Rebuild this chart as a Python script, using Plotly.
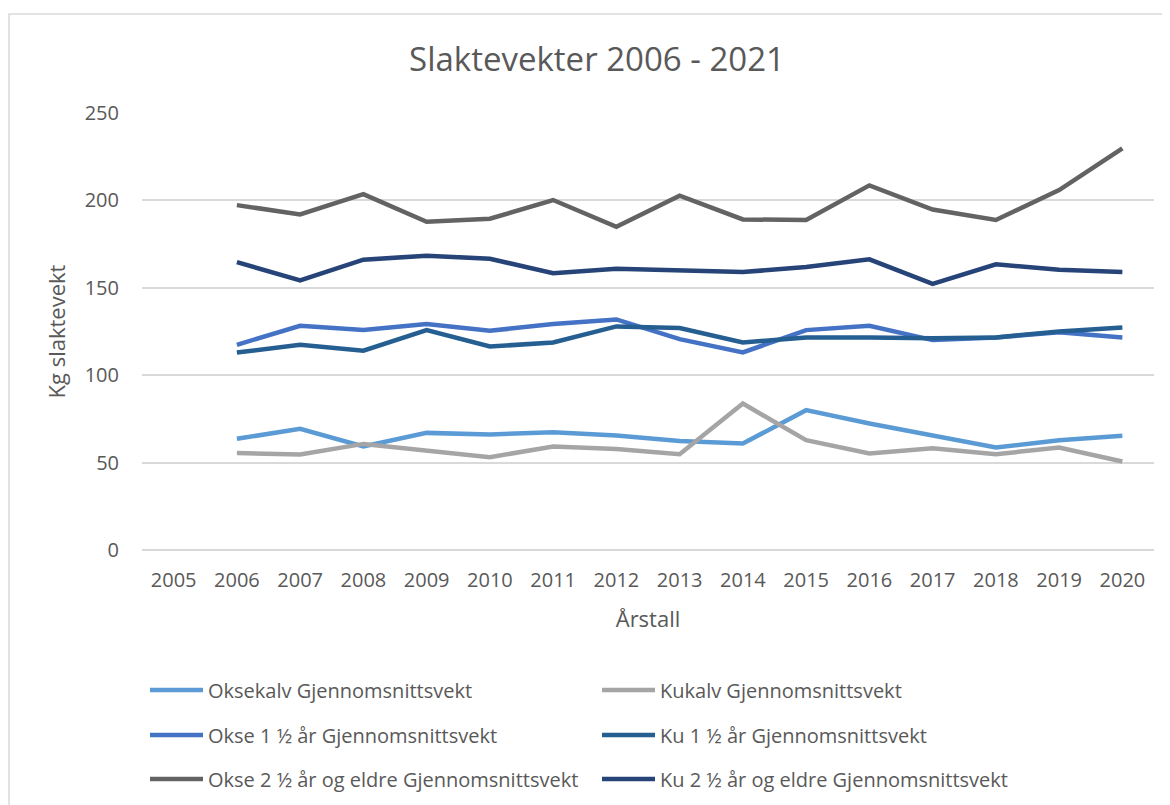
import plotly.graph_objects as go

years = ["2005", "2006", "2007", "2008", "2009", "2010", "2011", "2012", "2013",
         "2014", "2015", "2016", "2017", "2018", "2019", "2020"]
data_years = years[1:]

oksekalv = [63.6, 69.3, 59.2, 67.0, 66.1, 67.4, 65.5, 62.4, 60.9, 80.0, 72.4, 65.3, 58.6, 62.8, 65.3]
kukalv = [55.5, 54.6, 60.7, 56.9, 53.1, 59.2, 57.8, 54.8, 83.8, 62.8, 55.2, 58.2, 54.8, 58.6, 50.6]
okse_1_5 = [117.4, 128.3, 125.8, 129.3, 125.4, 129.3, 131.9, 120.6, 113.0, 125.8, 128.3, 120.1, 121.6, 124.5, 121.6]
ku_1_5 = [113.0, 117.4, 114.0, 125.8, 116.4, 118.7, 127.9, 127.0, 118.7, 121.6, 121.6, 121.2, 121.6, 125.0, 127.3]
okse_2_5 = [197.3, 192.0, 203.6, 187.8, 189.5, 200.2, 184.9, 202.7, 189.1, 188.8, 208.6, 194.8, 188.8, 205.9, 229.8]
ku_2_5 = [164.7, 154.2, 166.1, 168.4, 166.6, 158.4, 160.9, 159.9, 159.0, 161.9, 166.3, 152.3, 163.4, 160.3, 159.0]

series = [
    ("Oksekalv Gjennomsnittsvekt", oksekalv, "#5B9BD5", "legend"),
    ("Kukalv Gjennomsnittsvekt", kukalv, "#A5A5A5", "legend"),
    ("Okse 1 ½ år Gjennomsnittsvekt", okse_1_5, "#4472C4", "legend2"),
    ("Ku 1 ½ år Gjennomsnittsvekt", ku_1_5, "#255E91", "legend2"),
    ("Okse 2 ½ år og eldre Gjennomsnittsvekt", okse_2_5, "#636363", "legend3"),
    ("Ku 2 ½ år og eldre Gjennomsnittsvekt", ku_2_5, "#264478", "legend3"),
]

FONT = "Open Sans"
TXT = "#595959"
GRID = "#D9D9D9"

fig = go.Figure()
for name, vals, color, leg in series:
    fig.add_trace(go.Scatter(
        x=data_years, y=vals, name=name, mode="lines",
        line=dict(color=color, width=4.5, shape="linear"),
        legend=leg,
    ))

# page body adds an 8px offset; layout values below are in target-screen pixels
OFF = 8
W, H = 1170, 805
plot_left, plot_right, plot_top, plot_bottom = 142 - OFF, 1154 - OFF, 113 - OFF, 550 - OFF
L, R, T, B = plot_left, W - plot_right, plot_top, H - plot_bottom
pw, ph = plot_right - plot_left, plot_bottom - plot_top

def px_x(x):
    return (x - OFF - plot_left) / pw

def px_y(y):
    return (plot_bottom - (y - OFF)) / ph

leg_common = dict(
    orientation="h", xanchor="left", yanchor="middle",
    x=px_x(145), font=dict(family=FONT, size=20, color=TXT),
    itemwidth=53, entrywidth=384, entrywidthmode="pixels",
    bgcolor="rgba(0,0,0,0)", traceorder="normal",
)

fig.update_layout(
    width=W, height=H,
    margin=dict(l=L, r=R, t=T, b=B, autoexpand=False),
    paper_bgcolor="white", plot_bgcolor="white",
    font=dict(family=FONT, color=TXT),
    title=dict(text="Slaktevekter 2006 - 2021", x=(597 - OFF) / W, xref="container", xanchor="center",
               y=1 - (59 - OFF) / H, yref="container", yanchor="middle",
               font=dict(family=FONT, size=33, color=TXT)),
    xaxis=dict(type="category", categoryorder="array", categoryarray=years,
               tickmode="array", tickvals=years, ticktext=years,
               range=[-0.5, 15.5], showgrid=False, showline=False, zeroline=False,
               ticks="", tickfont=dict(family=FONT, size=20, color=TXT),
               ticklabelstandoff=16,
               title=dict(text="Årstall", font=dict(family=FONT, size=22, color=TXT), standoff=19)),
    yaxis=dict(range=[0, 250], dtick=50, tick0=0, showgrid=True, gridcolor=GRID, gridwidth=1.5,
               zeroline=True, zerolinecolor=GRID, zerolinewidth=1.5, showline=False,
               ticks="", tickfont=dict(family=FONT, size=20, color=TXT),
               ticklabelstandoff=22,
               title=dict(text="Kg slaktevekt", font=dict(family=FONT, size=22, color=TXT), standoff=12)),
    legend=dict(y=px_y(690), **leg_common),
    legend2=dict(y=px_y(735), **leg_common),
    legend3=dict(y=px_y(779), **leg_common),
    shapes=[dict(type="rect", xref="paper", yref="paper",
                 x0=px_x(9), x1=px_x(1190), y0=px_y(830), y1=px_y(14),
                 line=dict(color=GRID, width=1.5), fillcolor="rgba(0,0,0,0)", layer="below")],
)

fig.write_html("out.html")
